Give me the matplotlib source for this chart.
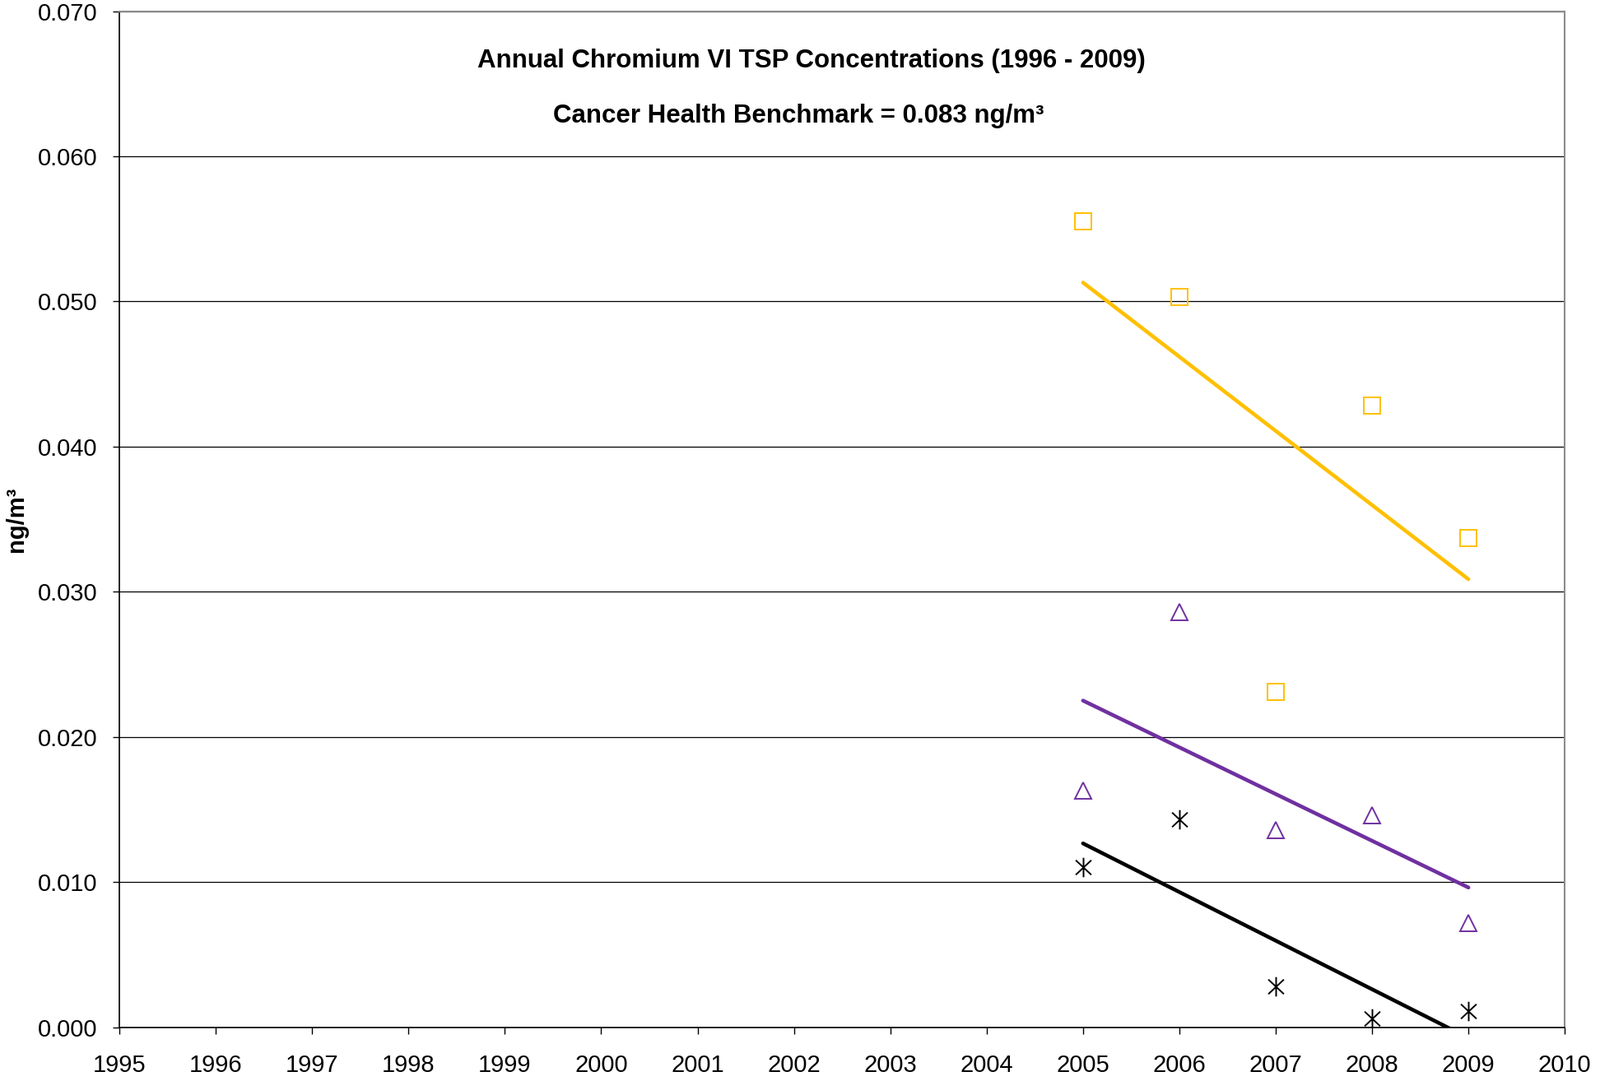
import numpy as np
import matplotlib
matplotlib.use("Agg")
import matplotlib.pyplot as plt
from matplotlib.path import Path

plt.rcParams['font.family'] = ['Liberation Sans', 'DejaVu Sans']

# annual means (ng/m3)
years = [2005, 2006, 2007, 2008, 2009]
site_square = [0.0555, 0.0503, 0.0231, 0.0428, 0.0337]
site_triangle = [0.0163, 0.0286, 0.0136, 0.0146, 0.0072]
site_star = [0.0110, 0.0143, 0.0028, 0.0006, 0.0011]

yellow = '#FFC000'
purple = '#7030A0'

# excel-style star: an X with a vertical bar through it
star = Path([(0, -1), (0, 1), (-0.8, -0.75), (0.8, 0.75), (-0.8, 0.75), (0.8, -0.75)],
            [Path.MOVETO, Path.LINETO, Path.MOVETO, Path.LINETO, Path.MOVETO, Path.LINETO])

fig = plt.figure(figsize=(19.44, 13.14), dpi=100)
ax = fig.add_axes([0.0746, 0.0498, 0.9034, 0.9399])

series = [
    (site_square, 's', yellow, 14.5),
    (site_triangle, '^', purple, 14.5),
    (site_star, star, 'black', 17),
]
x = np.array(years)
for vals, mk, col, ms in series:
    ax.plot(years, vals, linestyle='none', marker=mk, markersize=ms,
            markerfacecolor='none', markeredgecolor=col, markeredgewidth=1.4, zorder=4)
    k, b = np.polyfit(x, vals, 1)
    ax.plot(x, k * x + b, color=col, linewidth=3.3, solid_capstyle='round', zorder=3)

ax.set_xlim(1995, 2010)
ax.set_ylim(0, 0.07)
ax.set_xticks(range(1995, 2011))
ax.set_yticks(np.arange(0, 0.0701, 0.01))
ax.yaxis.set_major_formatter(matplotlib.ticker.FormatStrFormatter('%.3f'))
ax.tick_params(axis='both', labelsize=21, direction='out', length=6, width=1)
ax.tick_params(axis='x', pad=17)
ax.tick_params(axis='y', pad=13)
ax.yaxis.grid(True, color='black', linewidth=0.9)
ax.set_axisbelow(True)

for s in ['top', 'right']:
    ax.spines[s].set_color('#8c8c8c')
    ax.spines[s].set_linewidth(1.5)
for s in ['left', 'bottom']:
    ax.spines[s].set_color('black')
    ax.spines[s].set_linewidth(1.2)

ax.set_ylabel('ng/m³', fontsize=21, fontweight='bold', labelpad=9)

ax.text(0.479, 0.951, 'Annual Chromium VI TSP Concentrations (1996 - 2009)',
        transform=ax.transAxes, ha='center', va='center', fontsize=22.5, fontweight='bold')
ax.text(0.470, 0.897, 'Cancer Health Benchmark = 0.083 ng/m³',
        transform=ax.transAxes, ha='center', va='center', fontsize=22.5, fontweight='bold')

fig.savefig('out.png', dpi=100)
